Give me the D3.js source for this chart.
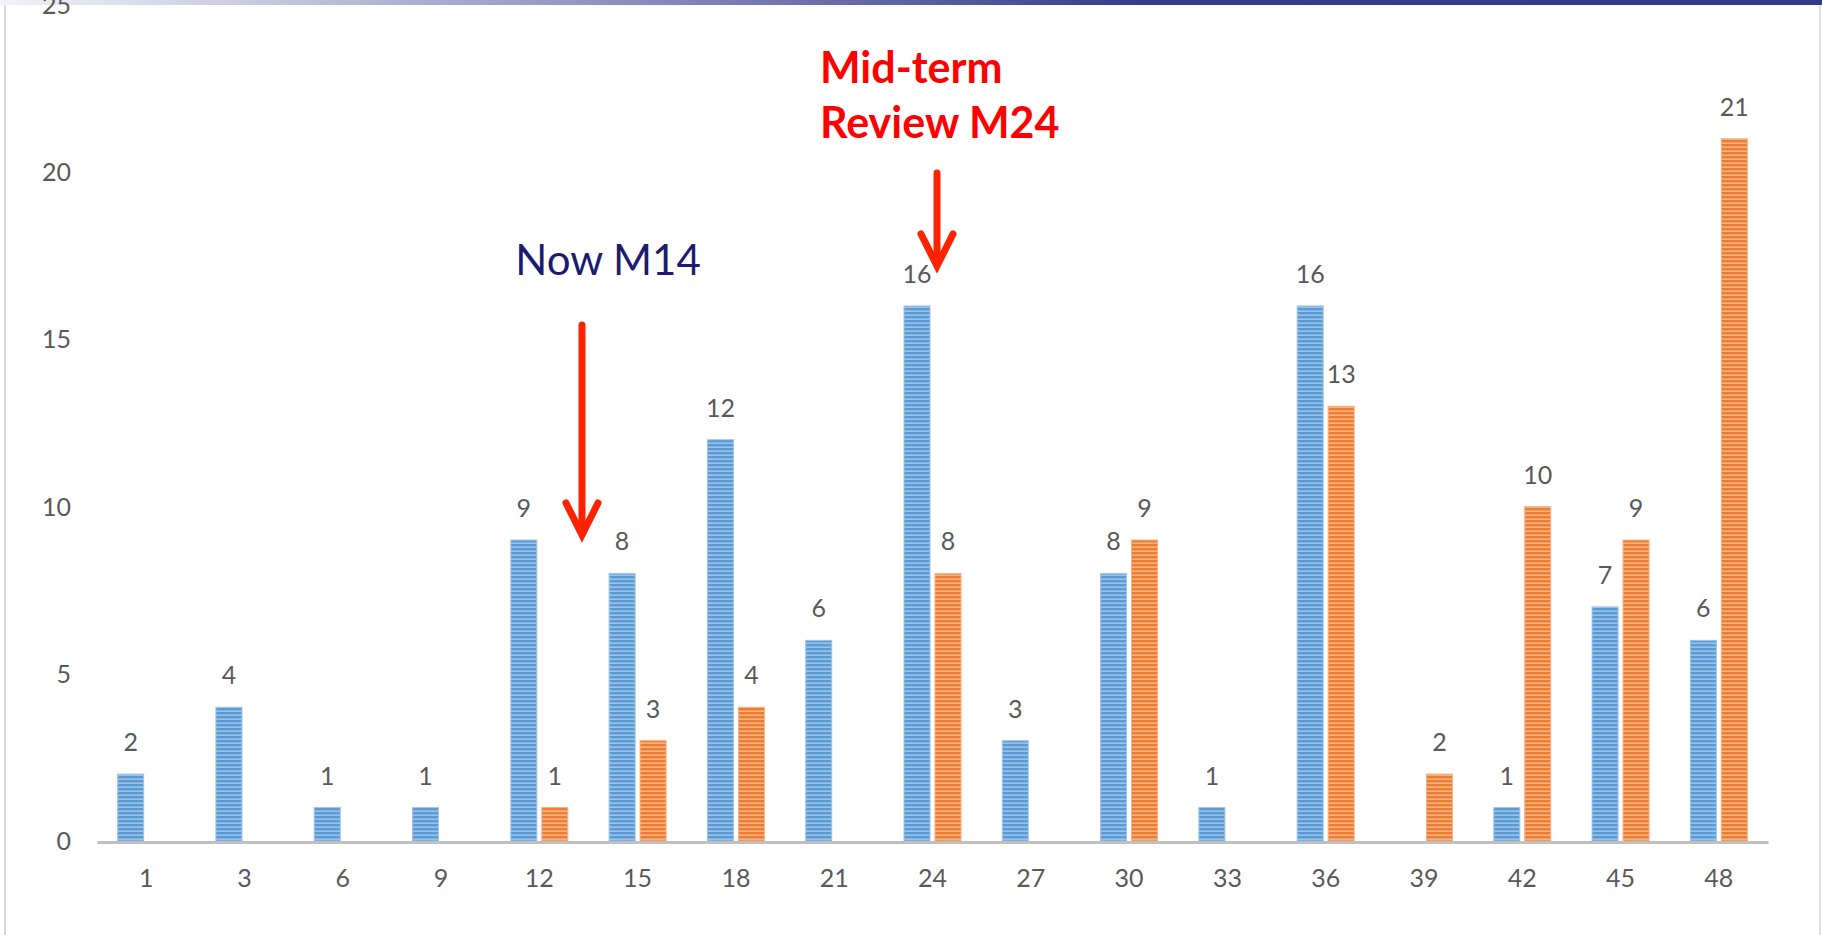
<!DOCTYPE html>
<html><head><meta charset="utf-8">
<script src="https://cdn.jsdelivr.net/npm/d3@7"></script>
<style>html,body{margin:0;padding:0;background:#fff;overflow:hidden}</style>
</head><body>
<svg id="c" width="1822" height="935"></svg>
<script>
const months = ["1","3","6","9","12","15","18","21","24","27","30","33","36","39","42","45","48"];
const seriesA = [2,4,1,1,9,8,12,6,16,3,8,1,16,null,1,7,6];
const seriesB = [null,null,null,null,1,3,4,null,8,null,9,null,13,2,10,9,21];
const yTicks = [0,5,10,15,20,25];
const nowLabel = "Now M14";
const nowMonth = 13; // between 12 and 15
const reviewLabel = ["Mid-term", "Review M24"];
const reviewMonth = "24";

const svg = d3.select("#c");
const W = 1822, H = 935;
const font = "Lato, 'Open Sans', sans-serif";

// background frame
const defs = svg.append("defs");
const g1 = defs.append("linearGradient").attr("id","topgrad").attr("x1","0").attr("x2","1");
g1.append("stop").attr("offset","0").attr("stop-color","#f2f2f7");
g1.append("stop").attr("offset","0.63").attr("stop-color","#353b8d");
g1.append("stop").attr("offset","1").attr("stop-color","#343a8c");
svg.append("rect").attr("x",0).attr("y",0).attr("width",W).attr("height",5).attr("fill","url(#topgrad)");
svg.append("rect").attr("x",4).attr("y",5).attr("width",2).attr("height",H-5).attr("fill","#d9d9d9");
svg.append("rect").attr("x",1819).attr("y",5).attr("width",2).attr("height",H-5).attr("fill","#e0e0e0");

// patterns
function stripe(id, base, light){
  const p = defs.append("pattern").attr("id",id).attr("patternUnits","userSpaceOnUse")
    .attr("width",8).attr("height",4);
  p.append("rect").attr("width",8).attr("height",4).attr("fill",base);
  p.append("rect").attr("y",2.5).attr("width",8).attr("height",1.3).attr("fill",light);
}
stripe("pA","#5b9bd5","#a9cbec");
stripe("pB","#ed7d31","#f6be98");

const x0 = d3.scaleBand().domain(months).range([97,1768]).padding(0);
const gw = 57;
const x1 = d3.scaleBand().domain(["A","B"])
  .range([(x0.bandwidth()-gw)/2,(x0.bandwidth()+gw)/2]).paddingInner(0.16);
const y = d3.scaleLinear().domain([0,25]).range([841,5]);

// y labels
svg.append("g").selectAll("text").data(yTicks).join("text")
  .attr("x",71).attr("y",d=>y(d)+9).attr("text-anchor","end")
  .attr("font-family",font).attr("font-size",25).attr("fill","#595959").text(d=>d);

// bars
const rows = [];
months.forEach((m,i)=>{
  if(seriesA[i]!=null) rows.push({m,k:"A",v:seriesA[i]});
  if(seriesB[i]!=null) rows.push({m,k:"B",v:seriesB[i]});
});
const bars = svg.append("g");
bars.selectAll("rect").data(rows).join("rect")
  .attr("x",d=>x0(d.m)+x1(d.k)).attr("width",x1.bandwidth())
  .attr("y",d=>y(d.v)).attr("height",d=>y(0)-y(d.v))
  .attr("fill",d=>d.k==="A"?"url(#pA)":"url(#pB)")
  .attr("stroke",d=>d.k==="A"?"#9fc3e7":"#f4b183").attr("stroke-width",1);
bars.selectAll("text").data(rows).join("text")
  .attr("x",d=>x0(d.m)+x1(d.k)+x1.bandwidth()/2).attr("y",d=>y(d.v)-23)
  .attr("text-anchor","middle").attr("font-family",font).attr("font-size",25)
  .attr("fill","#595959").text(d=>d.v);

// x axis
const xa = svg.append("g").attr("transform","translate(0,842)")
  .call(d3.axisBottom(x0).tickSize(0).tickPadding(0));
xa.select(".domain").attr("stroke","#bfbfbf").attr("stroke-width",3);
xa.selectAll("text").attr("dy",null).attr("y",45).attr("font-family",font).attr("font-size",25).attr("fill","#595959");

// annotations
const nowX = x0("12") + x0.bandwidth()*(nowMonth-12)/3 + x0.bandwidth()/2;
svg.append("text").attr("x",608).attr("y",275).attr("text-anchor","middle")
  .attr("font-family",font).attr("font-size",42).attr("fill","#1c1c6e").text(nowLabel);
function arrow(xc, y0, y1){
  const g = svg.append("g").attr("stroke","#ff2200").attr("stroke-width",7).attr("fill","none")
    .attr("stroke-linecap","round").attr("stroke-linejoin","miter");
  g.append("line").attr("x1",xc).attr("x2",xc).attr("y1",y0).attr("y2",y1-3);
  g.append("polyline").attr("points",`${xc-16},${y1-32} ${xc},${y1} ${xc+16},${y1-32}`);
}
arrow(582, 325, 535);
arrow(937, 173, 266);
const rv = svg.append("text").attr("font-family",font).attr("font-size",43).attr("font-weight","bold").attr("fill","#ff0000");
rv.selectAll("tspan").data(reviewLabel).join("tspan").attr("x",820).attr("y",(d,i)=>83+i*55).text(d=>d);
</script>
</body></html>
